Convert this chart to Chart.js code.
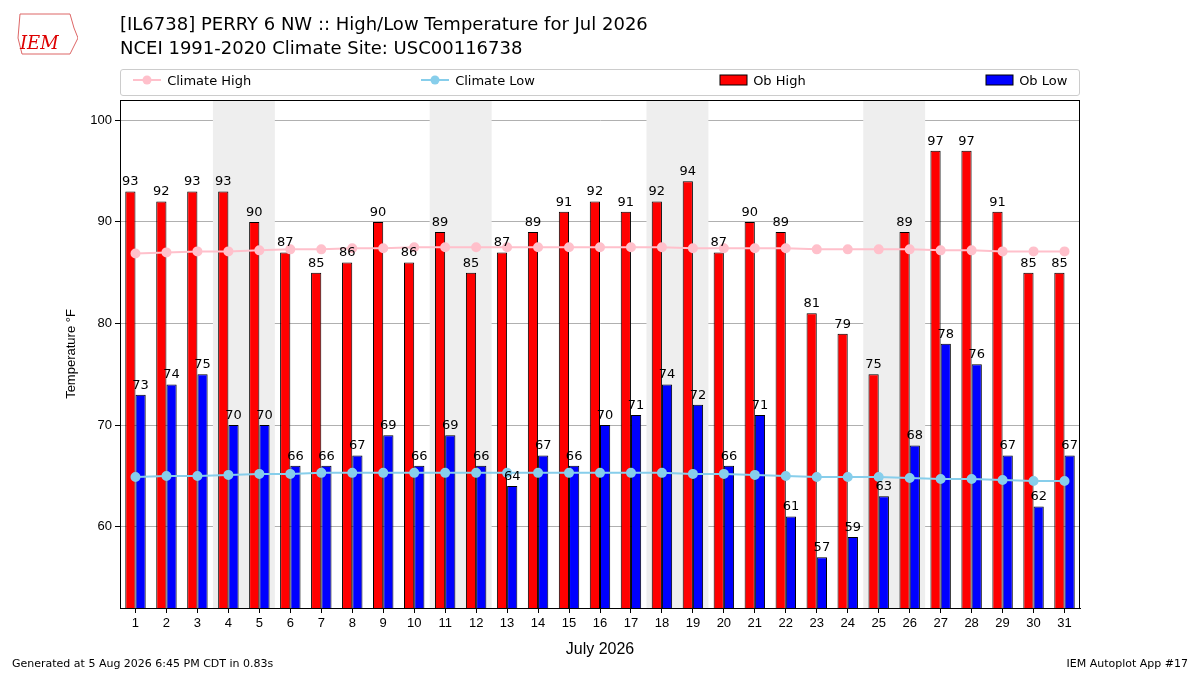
<!DOCTYPE html>
<html>
<head>
<meta charset="utf-8">
<script src="https://cdn.jsdelivr.net/npm/chart.js@4"></script>
<style>
  body { margin: 0; font-family: "DejaVu Sans", sans-serif; background: #fff; }
  #wrap { position: relative; width: 1200px; height: 675px; }
  #wrap canvas { position: absolute; left: 0; top: 0; }
  .title { position: absolute; left: 120px; font-size: 18px; color: #000; }
  .foot { position: absolute; top: 657px; font-size: 11px; }
  #legend { position: absolute; left: 120px; top: 69px; width: 958px; height: 25px;
    border: 1px solid #ccc; border-radius: 3px; font-size: 13px; }
  .li { position: absolute; top: 2px; line-height: 18px; }
  .li svg { vertical-align: -2px; }
  .logo { position: absolute; left: 12px; top: 8px; width: 66px; height: 48px; color: #d00;
    font-family: "DejaVu Serif", serif; font-style: italic; font-size: 18px; }
</style>
</head>
<body>
<div id="wrap">
  <canvas id="chart" width="1200" height="675"></canvas>
  <div class="logo"><svg width="66" height="48"><path d="M8 6 L58 6 L62 20 L66 30 L58 46 L10 46 L6 30 Z" fill="none" stroke="#d66" stroke-width="1"/></svg><span style="position:absolute;left:8px;top:24px">IEM</span></div>
  <div class="title" style="top:13px">[IL6738] PERRY 6 NW :: High/Low Temperature for Jul 2026</div>
  <div class="title" style="top:37px">NCEI 1991-2020 Climate Site: USC00116738</div>
  <div id="legend">
    <div class="li" style="left:12px"><svg width="30" height="14"><line x1="0" y1="7" x2="28" y2="7" stroke="pink" stroke-width="2"/><circle cx="14" cy="7" r="4.5" fill="pink"/></svg> Climate High</div>
    <div class="li" style="left:300px"><svg width="30" height="14"><line x1="0" y1="7" x2="28" y2="7" stroke="skyblue" stroke-width="2"/><circle cx="14" cy="7" r="4.5" fill="skyblue"/></svg> Climate Low</div>
    <div class="li" style="left:598px"><svg width="30" height="14"><rect x="1" y="2" width="27" height="10" fill="red" stroke="#000"/></svg> Ob High</div>
    <div class="li" style="left:864px"><svg width="30" height="14"><rect x="1" y="2" width="27" height="10" fill="blue" stroke="#000"/></svg> Ob Low</div>
  </div>
  <div class="foot" style="left:12px">Generated at 5 Aug 2026 6:45 PM CDT in 0.83s</div>
  <div class="foot" style="right:12px">IEM Autoplot App #17</div>
</div>
<script>
const days = Array.from({ length: 31 }, (_, i) => String(i + 1));
const obHigh = [93, 92, 93, 93, 90, 87, 85, 86, 90, 86, 89, 85, 87, 89, 91, 92, 91, 92, 94, 87, 90, 89, 81, 79, 75, 89, 97, 97, 91, 85, 85];
const obLow = [73, 74, 75, 70, 70, 66, 66, 67, 69, 66, 69, 66, 64, 67, 66, 70, 71, 74, 72, 66, 71, 61, 57, 59, 63, 68, 78, 76, 67, 62, 67];
const climHigh = [86.9, 87.0, 87.1, 87.1, 87.2, 87.3, 87.3, 87.4, 87.4, 87.5, 87.5, 87.5, 87.5, 87.5, 87.5, 87.5, 87.5, 87.5, 87.4, 87.4, 87.4, 87.4, 87.3, 87.3, 87.3, 87.3, 87.2, 87.2, 87.1, 87.1, 87.1];
const climLow = [64.9, 65.0, 65.0, 65.1, 65.2, 65.2, 65.3, 65.3, 65.3, 65.3, 65.3, 65.3, 65.3, 65.3, 65.3, 65.3, 65.3, 65.3, 65.2, 65.2, 65.1, 65.0, 64.9, 64.9, 64.9, 64.8, 64.7, 64.7, 64.6, 64.5, 64.5];
const weekends = [[4, 5], [11, 12], [18, 19], [25, 26]];
const yTicks = [60, 70, 80, 90, 100];

// grey weekend bands, bar value labels, frame
const extras = {
  id: "extras",
  beforeDatasetsDraw(chart) {
    const { ctx, chartArea, scales } = chart;
    const step = scales.x.getPixelForValue(1) - scales.x.getPixelForValue(0);
    ctx.save();
    ctx.fillStyle = "#eeeeee";
    weekends.forEach(([a, b]) => {
      const x0 = scales.x.getPixelForValue(a - 1) - step / 2;
      const x1 = scales.x.getPixelForValue(b - 1) + step / 2;
      ctx.fillRect(x0, chartArea.top, x1 - x0, chartArea.bottom - chartArea.top);
    });
    ctx.restore();
  },
  afterDatasetsDraw(chart) {
    const { ctx, chartArea } = chart;
    ctx.save();
    ctx.font = "13px 'DejaVu Sans'";
    ctx.fillStyle = "#000";
    ctx.textAlign = "center";
    ctx.textBaseline = "bottom";
    [0, 1].forEach((di) => {
      chart.getDatasetMeta(di).data.forEach((bar, i) => {
        const v = chart.data.datasets[di].data[i];
        ctx.fillText(v, bar.x, bar.y - 3);
      });
    });
    ctx.strokeStyle = "#000";
    ctx.lineWidth = 1;
    ctx.strokeRect(chartArea.left + 0.5, chartArea.top + 0.5, chartArea.right - chartArea.left - 1, chartArea.bottom - chartArea.top);
    ctx.restore();
  },
};

new Chart(document.getElementById("chart"), {
  data: {
    labels: days,
    datasets: [
      { type: "bar", label: "Ob High", data: obHigh, backgroundColor: "red", borderColor: "#000", borderWidth: 1, borderSkipped: "bottom", categoryPercentage: 0.66, barPercentage: 1, order: 2 },
      { type: "bar", label: "Ob Low", data: obLow, backgroundColor: "blue", borderColor: "#000", borderWidth: 1, borderSkipped: "bottom", categoryPercentage: 0.66, barPercentage: 1, order: 2 },
      { type: "line", label: "Climate High", data: climHigh, borderColor: "pink", backgroundColor: "pink", borderWidth: 2, pointRadius: 4, order: 1 },
      { type: "line", label: "Climate Low", data: climLow, borderColor: "skyblue", backgroundColor: "skyblue", borderWidth: 2, pointRadius: 4, order: 1 },
    ],
  },
  options: {
    responsive: false,
    animation: false,
    layout: { padding: { left: 60, right: 120, top: 100, bottom: 12 } },
    plugins: { legend: { display: false }, tooltip: { enabled: false } },
    scales: {
      x: {
        grid: { drawOnChartArea: false, offset: false, tickColor: "#000", tickLength: 5 },
        border: { color: "#000" },
        ticks: { color: "#000", font: { size: 13 } },
        title: { display: true, text: "July 2026", color: "#000", font: { size: 16 } },
        afterFit: (s) => { s.height = 55; },
      },
      y: {
        min: 52, max: 102,
        afterBuildTicks: (s) => { s.ticks = yTicks.map((v) => ({ value: v })); },
        grid: { color: "#b0b0b0", tickColor: "#000", tickLength: 5 },
        border: { color: "#000" },
        ticks: { color: "#000", font: { size: 13 } },
        title: { display: true, text: "Temperature °F", color: "#000", font: { size: 13 } },
        afterFit: (s) => { s.width = 60; },
      },
    },
  },
  plugins: [extras],
});
</script>
</body>
</html>
